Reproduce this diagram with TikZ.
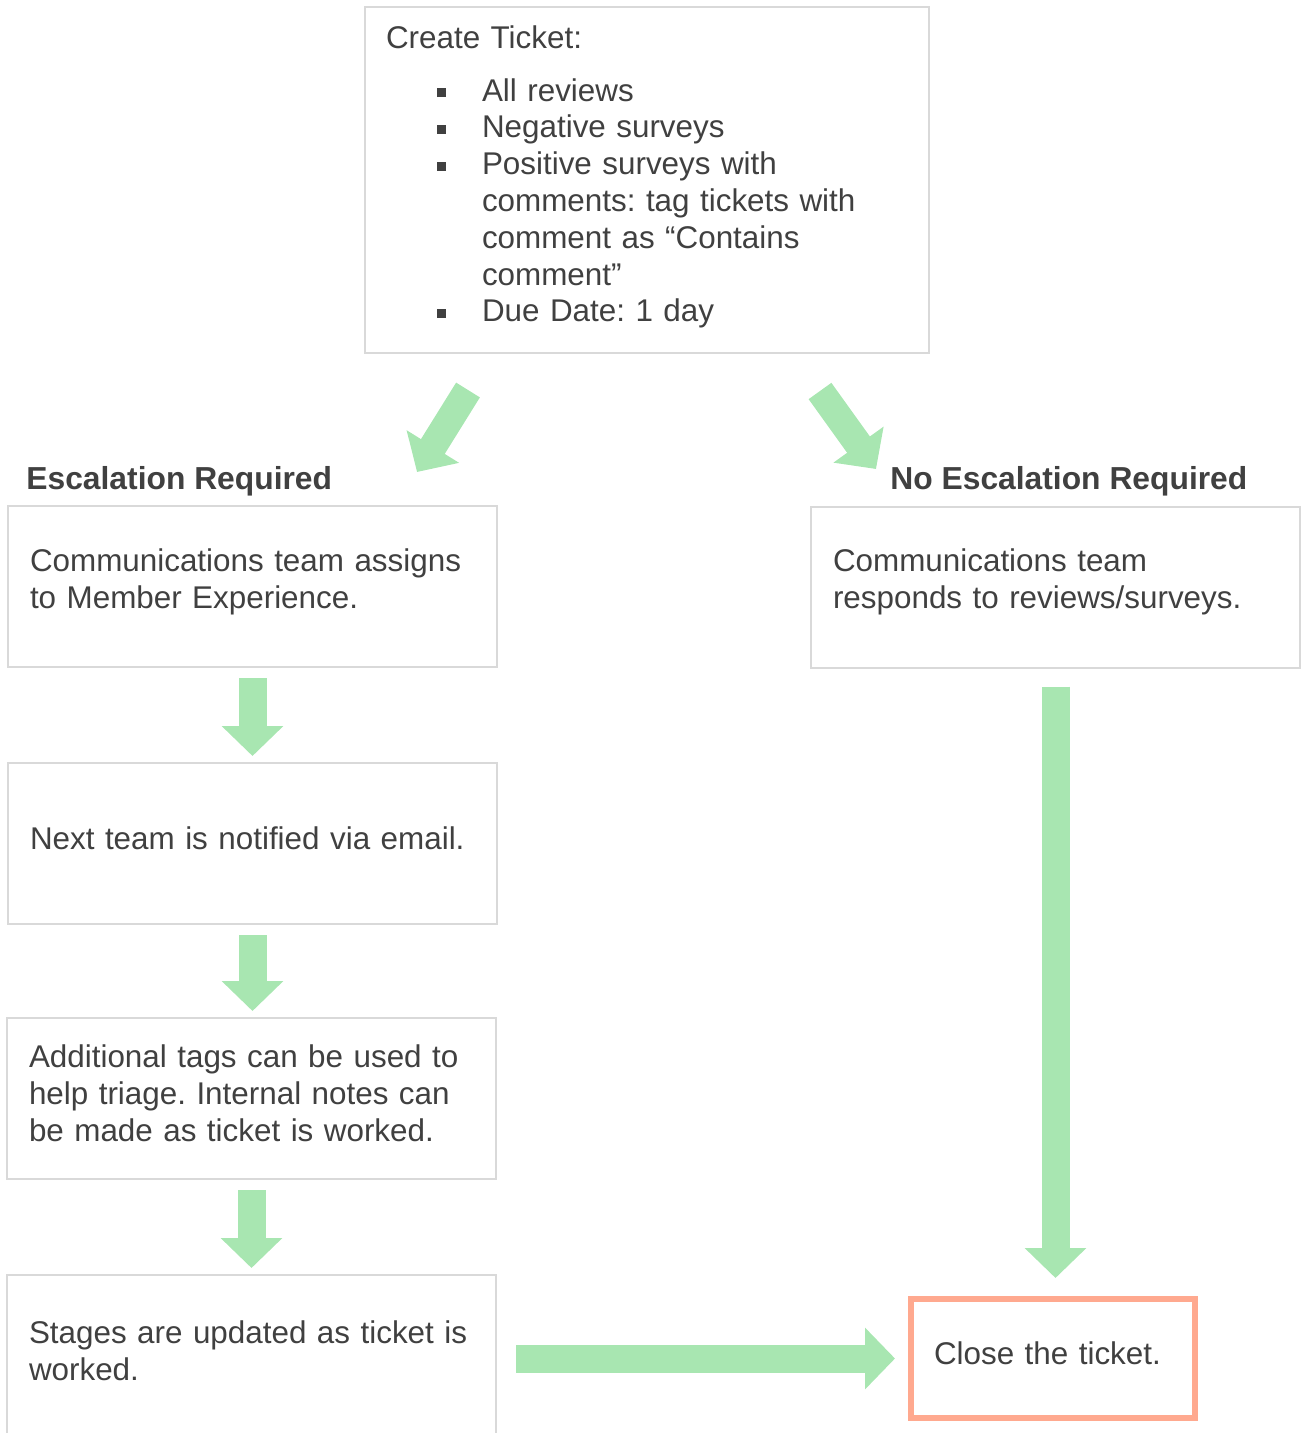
\documentclass[tikz,border=0pt]{standalone}
\usepackage{fontspec}
\setmainfont{Liberation Sans}
\usetikzlibrary{arrows.meta}
\definecolor{txtgray}{HTML}{404040}
\definecolor{boxgray}{HTML}{D9D9D9}
\definecolor{flowgreen}{HTML}{A8E6B1}
\definecolor{closesalmon}{HTML}{FFA98F}
\newcommand{\sqbullet}{\hspace*{25.5pt}\rule[2pt]{4.5pt}{4.5pt}\hspace*{18pt}}
\newcommand{\sqindent}{\hspace*{48pt}}
\frenchspacing
\tikzset{
  basefont/.style={font=\fontsize{15.7pt}{18.4pt}\selectfont, text=txtgray},
  stepbox/.style={basefont, draw=boxgray, line width=1pt, align=left,
    minimum width=244.5pt, minimum height=80.5pt, text width=222.5pt, inner xsep=11pt,
    execute at end node={\par\vspace{5pt}}},
  headlabel/.style={basefont, font=\fontsize{15.9pt}{18.4pt}\selectfont\bfseries, inner sep=0pt, anchor=west},
  flowarrow/.style={draw=flowgreen, line width=14pt, -{Triangle[length=15pt,width=30pt]}},
}
\begin{document}
\begin{tikzpicture}[x=0.5pt, y=-0.5pt]
  \useasboundingbox (0,0) rectangle (1302,1433);

  \node[stepbox, minimum width=282pt, minimum height=173pt, text width=261pt, inner xsep=10.5pt,
    execute at end node={\vspace{-2pt}}] (ticket) at (647,180)
    {Create Ticket:\\[8pt]
     \sqbullet All reviews\\
     \sqbullet Negative surveys\\
     \sqbullet Positive surveys with\\
     \sqindent comments: tag tickets with\\
     \sqindent comment as “Contains\\
     \sqindent comment”\\
     \sqbullet Due Date: 1 day};

  \node[headlabel] (esclabel) at (26,481) {Escalation Required};
  \node[headlabel] (noesclabel) at (890,481) {No Escalation Required};

  \node[stepbox] (assign) at (252.5,586.5) {Communications team assigns\\to Member Experience.};
  \node[stepbox] (notify) at (252.5,843.5) {Next team is notified via email.};
  \node[stepbox] (tags) at (251.5,1098.5) {Additional tags can be used to\\help triage. Internal notes can\\be made as ticket is worked.};
  \node[stepbox] (stages) at (251.5,1355.5) {Stages are updated as ticket is\\worked.};
  \node[stepbox] (respond) at (1055.5,587) {Communications team\\responds to reviews/surveys.};
  \node[stepbox, draw=closesalmon, line width=3pt, minimum width=142pt, minimum height=59.5pt,
    text width=119pt, inner xsep=11.5pt] (close) at (1053,1358.5) {Close the ticket.};

  \coordinate (ltail) at (468,390);
  \coordinate (lhead) at (417,472);
  \coordinate (rtail) at (820,391);
  \coordinate (rhead) at (876,469);
  \draw[flowarrow] (ltail) -- (lhead);
  \draw[flowarrow] (rtail) -- (rhead);

  \draw[flowarrow, shorten <=5pt, shorten >=3pt] (assign.south) -- (notify.north);
  \draw[flowarrow, shorten <=5pt, shorten >=3pt] (notify.south) -- (notify.south |- tags.north);
  \draw[flowarrow, shorten <=5pt, shorten >=3pt] (tags.south) -- (tags.south |- stages.north);
  \draw[flowarrow, shorten <=9pt, shorten >=9pt] (respond.south) -- (respond.south |- close.north);
  \draw[flowarrow, shorten <=9.5pt, shorten >=6.5pt] (stages.east |- close.west) -- (close.west);
\end{tikzpicture}
\end{document}
